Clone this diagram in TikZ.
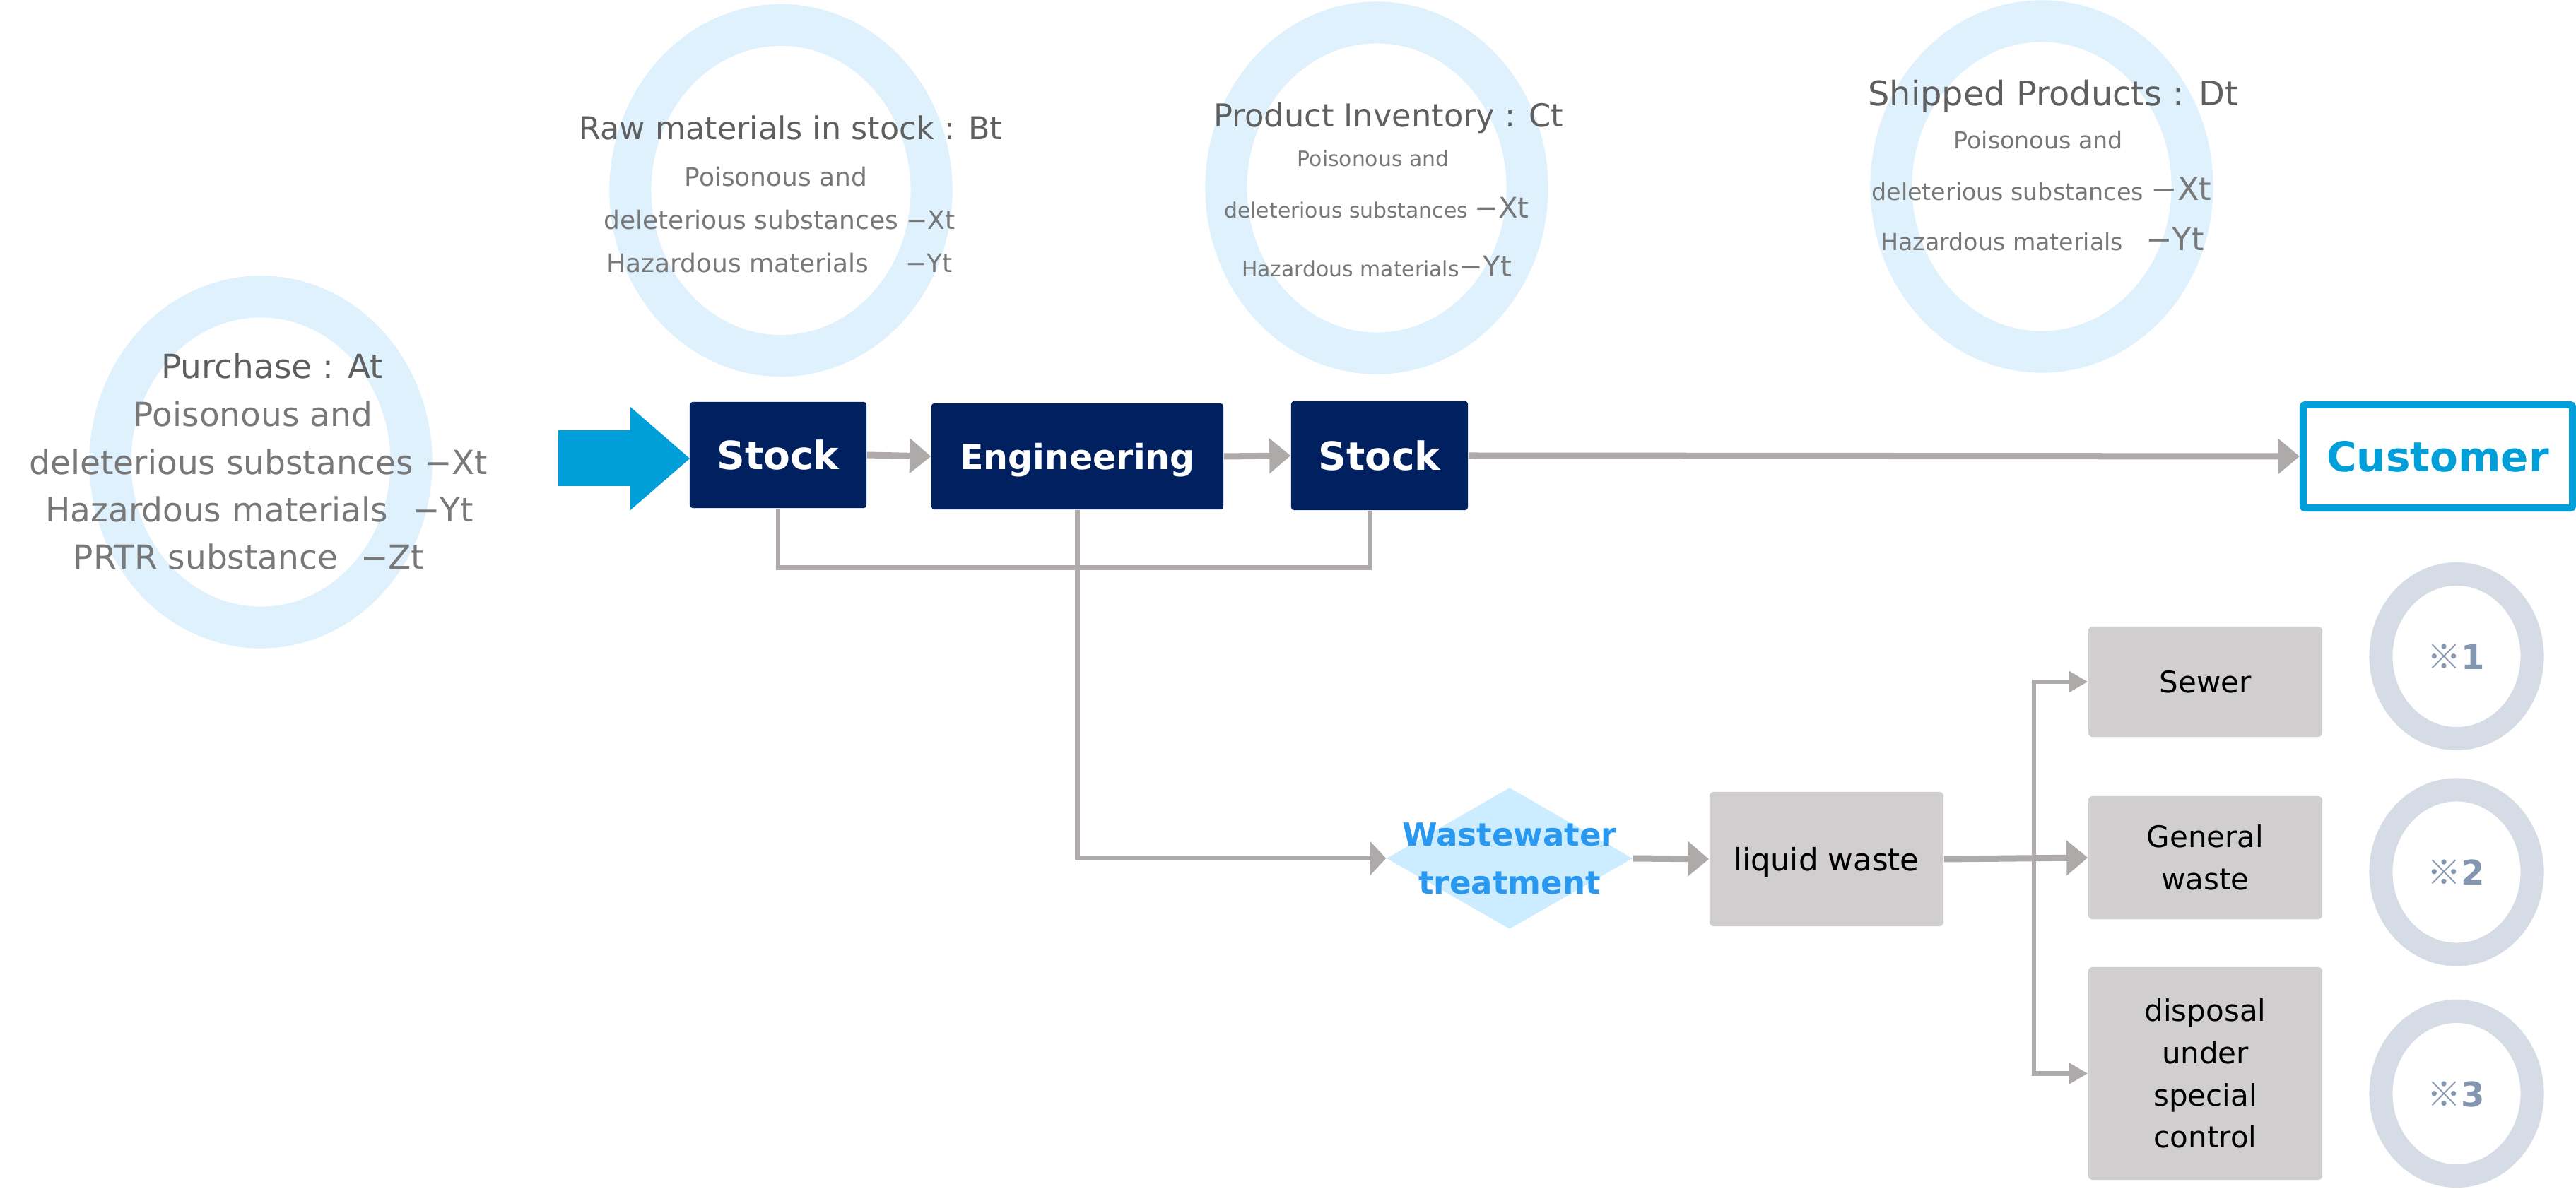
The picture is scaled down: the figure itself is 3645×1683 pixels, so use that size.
\documentclass[tikz,border=0pt]{standalone}
\usepackage{fontspec}
\setmainfont{DejaVu Sans}
\newfontfamily\cjkfont{Noto Sans CJK JP}
\usetikzlibrary{arrows.meta,shapes.geometric}
\definecolor{navy}{RGB}{0,32,96}
\definecolor{ringblue}{RGB}{222,241,253}
\definecolor{ringgray}{RGB}{214,220,229}
\definecolor{agray}{RGB}{173,170,169}
\definecolor{boxgray}{RGB}{208,206,207}
\definecolor{cblue}{RGB}{0,159,217}
\definecolor{wblue}{RGB}{41,152,240}
\definecolor{dgray}{RGB}{95,95,95}
\definecolor{tgray}{RGB}{120,120,120}
\definecolor{markgray}{RGB}{132,151,176}
\definecolor{diafill}{RGB}{204,236,255}
\begin{document}
\begin{tikzpicture}[x=0.01cm,y=-0.01cm,
  ring/.style={draw=ringblue,line width=0.59cm},
  sring/.style={draw=ringgray,line width=0.33cm},
  navybox/.style={fill=navy,rounded corners=0.04cm,text=white,inner sep=0,text depth=0pt,minimum width=2.5cm},
  graybox/.style={fill=boxgray,rounded corners=0.06cm,inner sep=0,align=center,minimum width=3.31cm,text=black,
    font=\fontsize{11.95pt}{17pt}\selectfont},
  hd/.style={inner sep=0,text=dgray,anchor=base},
  desc/.style={inner sep=0,text=tgray,anchor=base},
  conn/.style={draw=agray,line width=0.09cm,-{Triangle[length=0.3cm,width=0.48cm]}},
  thinline/.style={draw=agray,line width=0.065cm},
  sconn/.style={draw=agray,line width=0.065cm,-{Triangle[length=0.26cm,width=0.28cm]}},
  markt/.style={inner sep=0,text=markgray,font=\bfseries\fontsize{13.66pt}{16pt}\selectfont},
]
\useasboundingbox[fill=white] (0,0) rectangle (3645,1683);

% big rings
\draw[ring] (369,654) ellipse [x radius=2.13cm, y radius=2.34cm];
\draw[ring] (1105,269.5) ellipse [x radius=2.13cm, y radius=2.34cm];
\draw[ring] (1948,266) ellipse [x radius=2.13cm, y radius=2.34cm];
\draw[ring] (2889,264) ellipse [x radius=2.13cm, y radius=2.34cm];

% Purchase texts
\begin{scope}[every node/.append style={font=\fontsize{13.37pt}{16pt}\selectfont}]
\node[hd] (pa0) at (385,536) {Purchase : At};
\node[desc] (pa1) at (358,603.5) {Poisonous and};
\node[desc] (pa2) at (366,671.5) {deleterious substances −Xt};
\node[desc] (pa3) at (367,738.5) {Hazardous materials\hspace{0.34cm}−Yt};
\node[desc] (pa4) at (352,805.5) {PRTR substance\hspace{0.32cm}−Zt};
\end{scope}

% Raw materials texts
\node[hd,font=\fontsize{12.63pt}{15pt}\selectfont] (rb0) at (1119,198) {Raw materials in stock : Bt};
\begin{scope}[every node/.append style={font=\fontsize{10.24pt}{12pt}\selectfont}]
\node[desc] (rb1) at (1098,264) {Poisonous and};
\node[desc] (rb2) at (1103,325) {deleterious substances −Xt};
\node[desc] (rb3) at (1103,386) {Hazardous materials\hspace{0.52cm}−Yt};
\end{scope}

% Product inventory texts
\node[hd,font=\fontsize{12.72pt}{15pt}\selectfont] (pc0) at (1965,180) {Product Inventory : Ct};
\begin{scope}[every node/.append style={font=\fontsize{8.48pt}{10pt}\selectfont}]
\node[desc] (pc1) at (1943,236) {Poisonous and};
\node[desc] (pc2) at (1948,309) {deleterious substances {\fontsize{11.44pt}{12pt}\selectfont −Xt}};
\node[desc] (pc3) at (1948,392) {Hazardous materials{\fontsize{11.44pt}{12pt}\selectfont −Yt}};
\end{scope}

% Shipped products texts
\node[hd,font=\fontsize{13.6pt}{16pt}\selectfont] (sd0) at (2905,150) {Shipped Products : Dt};
\begin{scope}[every node/.append style={font=\fontsize{9.45pt}{11pt}\selectfont}]
\node[desc] (sd1) at (2884,211) {Poisonous and};
\node[desc] (sd2) at (2889,284) {deleterious substances {\fontsize{12.75pt}{13pt}\selectfont −Xt}};
\node[desc] (sd3) at (2890,355) {Hazardous materials\hspace{0.32cm}{\fontsize{12.75pt}{13pt}\selectfont −Yt}};
\end{scope}

% block arrow
\fill[cblue] (790,609) -- (892,609) -- (892,576) -- (976,649) -- (892,722) -- (892,688) -- (790,688) -- cycle;

% main boxes
\node[navybox,minimum height=1.5cm,font=\bfseries\fontsize{15.65pt}{18pt}\selectfont] (st1) at (1101,644) {Stock};
\node[navybox,minimum width=4.13cm,minimum height=1.5cm,font=\bfseries\fontsize{13.94pt}{16pt}\selectfont] (eng) at (1524.5,646) {Engineering};
\node[navybox,minimum height=1.54cm,font=\bfseries\fontsize{15.65pt}{18pt}\selectfont] (st2) at (1952,645) {Stock};
\node[draw=cblue,line width=0.1cm,rounded corners=0.03cm,inner sep=0,text depth=0pt,minimum width=3.81cm,minimum height=1.46cm,
  text=cblue,font=\bfseries\fontsize{16.5pt}{19pt}\selectfont] (cust) at (3449.5,646) {Customer};

\draw[conn] (st1.east) -- (eng.west);
\draw[conn] (eng.east) -- (st2.west);
\draw[conn] (st2.east) -- (cust.west);

% wastewater diamond
\node[diamond,fill=diafill,minimum width=3.48cm,minimum height=2cm,inner sep=0] (ww) at (2136,1215) {};
\node[inner sep=0,align=center,text=wblue,font=\bfseries\fontsize{12.8pt}{19.3pt}\selectfont] (wwt) at (2136,1215) {Wastewater\\treatment};

% bracket and engineering line
\draw[thinline] (st1.south) -- ++(0,84) -| ([xshift=-0.14cm]st2.south);
\draw[thinline,-{Triangle[length=0.22cm,width=0.46cm]}] (eng.south) |- (ww.west);

% waste boxes
\node[graybox,minimum height=1.9cm,text depth=0pt,font=\fontsize{12.4pt}{14pt}\selectfont] (lw) at (2584.5,1216) {liquid waste};
\node[graybox,minimum height=1.56cm,text depth=0pt] (sw) at (3120.5,965) {Sewer};
\node[graybox,minimum height=1.74cm] (gw) at (3120.5,1214) {General\\waste};
\node[graybox,minimum height=3.01cm] (dp) at (3120.5,1519.5) {disposal\\under\\special\\control};

\draw[conn] (ww.east) -- (lw.west);
\draw[conn] (lw.east) -- (gw.west);
\coordinate (br) at (2878,1215);
\draw[sconn] (br |- dp.west) |- (sw.west);
\draw[sconn] (br |- sw.west) |- (dp.west);

% small rings
\draw[sring] (3476,929) ellipse [x radius=1.07cm, y radius=1.165cm];
\draw[sring] (3476,1234.5) ellipse [x radius=1.07cm, y radius=1.165cm];
\draw[sring] (3476,1548) ellipse [x radius=1.07cm, y radius=1.165cm];
\node[markt] (m1) at (3475,930) {{\cjkfont\mdseries ※}1};
\node[markt] (m2) at (3475,1235) {{\cjkfont\mdseries ※}2};
\node[markt] (m3) at (3475,1549) {{\cjkfont\mdseries ※}3};
\end{tikzpicture}
\end{document}
